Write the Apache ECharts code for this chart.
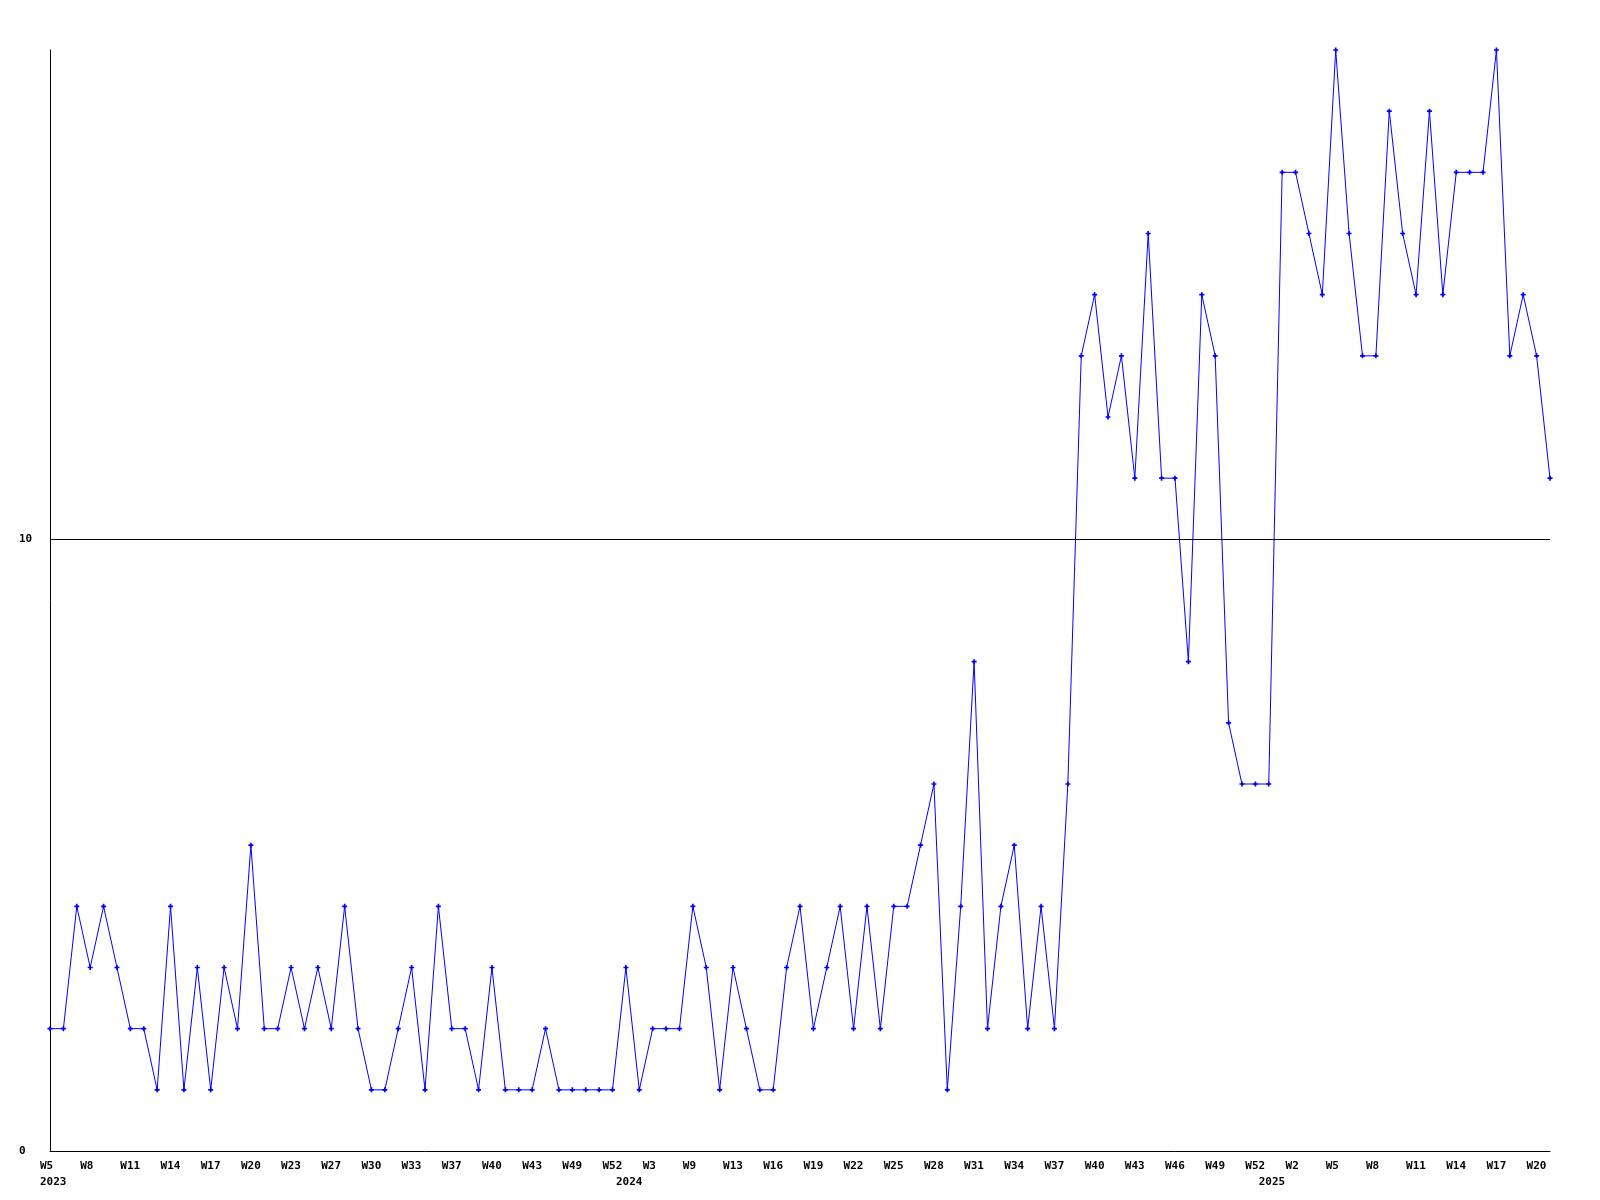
<!DOCTYPE html>
<html>
<head>
<meta charset="utf-8">
<script src="https://cdn.jsdelivr.net/npm/echarts@6/dist/echarts.min.js"></script>
<style>
html,body{margin:0;padding:0;background:#fff;}
#chart{width:1600px;height:1200px;}
</style>
</head>
<body>
<div id="chart"></div>
<script>
// weekly values, one per point (113 points)
const values = [
  2,2,4,3,4,3,2,2,1,4,1,3,1,3,2,5,2,2,3,2,3,2,4,2,
  1,1,2,3,1,4,2,2,1,3,1,1,1,2,1,1,1,1,1,3,1,2,2,2,
  4,3,1,3,2,1,1,3,4,2,3,4,2,4,2,4,4,5,6,1,4,8,2,4,5,2,4,2,6,
  13,14,12,13,11,15,11,11,8,14,13,7,6,6,6,
  16,16,15,14,18,15,13,13,17,15,14,17,14,16,16,16,18,13,14,13,11
];
// week tick labels, one every 3 points
const weekLabels = [
  'W5','W8','W11','W14','W17','W20','W23','W27','W30','W33','W37','W40','W43','W49','W52',
  'W3','W9','W13','W16','W19','W22','W25','W28','W31','W34','W37','W40','W43','W46','W49','W52',
  'W2','W5','W8','W11','W14','W17','W20'
];
// year labels: point index -> year
const yearIdx = [0, 43, 91];
const yearLabels = ['2023', '2024', '2025'];
const yTicks = [0, 10];

const categories = values.map((v, i) => String(i));

const chart = echarts.init(document.getElementById('chart'), null, {renderer: 'canvas'});
const font = {fontFamily: '"DejaVu Sans Mono", monospace', fontWeight: 'bold', fontSize: 11, color: '#000'};

chart.setOption({
  animation: false,
  backgroundColor: '#fff',
  grid: {left: 50, right: 50, top: 50, bottom: 49, containLabel: false},
  xAxis: {
    type: 'category',
    data: categories,
    boundaryGap: false,
    axisLine: {show: true, lineStyle: {color: '#000', width: 1}},
    axisTick: {show: false},
    splitLine: {show: false},
    axisLabel: {
      margin: 7,
      interval: function (index) {
        return index % 3 === 0 || yearIdx.indexOf(index) >= 0;
      },
      formatter: function (val, index) {
        let first = index % 3 === 0 ? weekLabels[index / 3] || '' : '';
        let y = yearIdx.indexOf(index);
        let s = '{w|' + (first || ' ') + '}';
        if (y >= 0) s += '\n{w|' + yearLabels[y] + '}';
        return s;
      },
      rich: {
        w: Object.assign({width: 20, align: 'left', lineHeight: 16}, font)
      }
    }
  },
  yAxis: {
    type: 'value',
    min: 0,
    max: 18,
    interval: 10,
    axisLine: {show: true, lineStyle: {color: '#000', width: 1}},
    axisTick: {show: false},
    splitLine: {show: false},
    axisLabel: Object.assign({
      margin: 31,
      align: 'left',
      showMaxLabel: false,
      formatter: function (v) { return yTicks.indexOf(v) >= 0 ? String(v) : ''; }
    }, font)
  },
  series: [{
    type: 'line',
    data: values,
    symbol: 'path://M1,0H2V1H3V2H2V3H1V2H0V1H1Z',
    symbolSize: 5,
    showSymbol: true,
    lineStyle: {color: '#0000ff', width: 1},
    itemStyle: {color: '#0000ff'},
    markLine: {
      silent: true,
      symbol: 'none',
      label: {show: false},
      lineStyle: {color: '#000', width: 1, type: 'solid'},
      data: [{yAxis: 10}]
    }
  }]
});
</script>
</body>
</html>
